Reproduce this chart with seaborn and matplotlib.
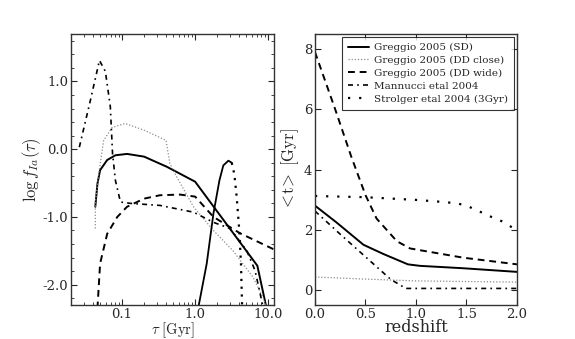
import numpy as np
import pandas as pd
import matplotlib
matplotlib.use("Agg")
import matplotlib.pyplot as plt
import seaborn as sns
from matplotlib.ticker import MultipleLocator, FixedLocator, FixedFormatter

# --- left panel: delay time distributions (tau in Gyr, log f_Ia) ---
tau_sd = [0.043, 0.046, 0.05, 0.0625, 0.081, 0.117, 0.2, 0.41, 1.0, 7.1, 9.5]
logf_sd = [-0.85, -0.51, -0.31, -0.16, -0.09, -0.07, -0.11, -0.26, -0.48, -1.72, -2.35]

tau_close = [0.043, 0.043, 0.048, 0.056, 0.073, 0.11, 0.2, 0.4, 0.45, 0.56, 0.95, 1.78, 3.3, 6.2, 8.6, 9.5]
logf_close = [-1.17, -0.8, -0.36, 0.13, 0.32, 0.38, 0.28, 0.13, -0.21, -0.41, -0.85, -1.2, -1.5, -1.89, -2.2, -2.35]

tau_wide = [0.046, 0.05, 0.0625, 0.086, 0.117, 0.2, 0.33, 0.62, 1.0, 1.78, 4.1, 12.0]
logf_wide = [-2.35, -1.69, -1.25, -1.0, -0.85, -0.73, -0.68, -0.67, -0.7, -1.0, -1.24, -1.48]

tau_mann = [0.026, 0.037, 0.049, 0.059, 0.069, 0.074, 0.081, 0.095, 0.13, 0.33, 0.95, 1.78, 3.0, 5.1, 6.6, 8.6]
logf_mann = [0.03, 0.73, 1.31, 1.15, 0.63, -0.06, -0.46, -0.78, -0.8, -0.83, -0.93, -1.08, -1.17, -1.5, -1.79, -2.35]

tau_strol = [1.1, 1.44, 1.78, 2.15, 2.43, 2.85, 3.17, 3.44, 3.7, 4.02, 4.24, 4.4]
logf_strol = [-2.35, -1.69, -0.95, -0.46, -0.24, -0.17, -0.2, -0.37, -0.7, -1.2, -1.69, -2.35]

# --- right panel: mean delay <t> vs redshift ---
z_sd = [0.0, 0.21, 0.48, 0.68, 0.92, 1.04, 1.47, 2.0]
t_sd = [2.8, 2.25, 1.5, 1.19, 0.85, 0.8, 0.72, 0.6]

z_close = [0.0, 0.5, 1.0, 2.0]
t_close = [0.43, 0.36, 0.3, 0.26]

z_wide = [0.0, 0.1, 0.2, 0.36, 0.5, 0.61, 0.81, 0.94, 1.04, 1.47, 2.0]
t_wide = [7.9, 6.95, 6.0, 4.42, 3.15, 2.37, 1.62, 1.38, 1.32, 1.07, 0.85]

z_mann = [0.0, 0.25, 0.5, 0.75, 0.9, 2.0]
t_mann = [2.62, 1.85, 1.1, 0.35, 0.05, 0.05]

z_strol = [0.0, 0.5, 1.0, 1.2, 1.4, 1.5, 1.6, 1.75, 1.85, 2.0]
t_strol = [3.12, 3.08, 2.99, 2.94, 2.88, 2.8, 2.65, 2.42, 2.28, 1.98]

labels = ["Greggio 2005 (SD)", "Greggio 2005 (DD close)", "Greggio 2005 (DD wide)",
          "Mannucci etal 2004", "Strolger etal 2004 (3Gyr)"]

# стили линий: цвет, толщина, штрих
styles = {
    labels[0]: ("black", 1.4, "-"),
    labels[1]: ("0.55", 0.9, (0, (1, 1.5))),
    labels[2]: ("black", 1.4, (0, (3.5, 2.5))),
    labels[3]: ("black", 1.2, (0, (3, 2.5, 1, 2.5))),
    labels[4]: ("black", 1.6, (0, (1, 4))),
}

left_data = [(tau_sd, logf_sd), (tau_close, logf_close), (tau_wide, logf_wide),
             (tau_mann, logf_mann)]
right_data = [(z_sd, t_sd), (z_close, t_close), (z_wide, t_wide),
              (z_mann, t_mann), (z_strol, t_strol)]

sns.set_style("ticks")
plt.rcParams.update({
    "font.family": "serif",
    "font.serif": ["DejaVu Serif"],
    "mathtext.fontset": "cm",
    "axes.unicode_minus": False,
    "xtick.direction": "in",
    "ytick.direction": "in",
    "xtick.top": True,
    "ytick.right": True,
    "axes.edgecolor": "0.2",
    "axes.linewidth": 1.0,
})

fig = plt.figure(figsize=(5.75, 3.39), dpi=100)
ax1 = fig.add_axes([0.1235, 0.1003, 0.353, 0.7994])
ax2 = fig.add_axes([0.5478, 0.1003, 0.3513, 0.7994])

for lab, (x, y) in zip(labels, left_data):
    c, lw, ls = styles[lab]
    df = pd.DataFrame({"x": x, "y": y})
    sns.lineplot(data=df, x="x", y="y", ax=ax1, color=c, linewidth=lw,
                 linestyle=ls, sort=False, estimator=None)

# Strolger слева: подъём сплошной, спад точками (как на оригинале)
df_s = pd.DataFrame({"x": tau_strol, "y": logf_strol})
sns.lineplot(data=df_s.iloc[:7], x="x", y="y", ax=ax1, color="black",
             linewidth=1.3, sort=False, estimator=None)
sns.lineplot(data=df_s.iloc[6:], x="x", y="y", ax=ax1, color="black",
             linewidth=1.6, linestyle=(0, (1, 2.5)), sort=False, estimator=None)

for lab, (x, y) in zip(labels, right_data):
    c, lw, ls = styles[lab]
    df = pd.DataFrame({"x": x, "y": y})
    sns.lineplot(data=df, x="x", y="y", ax=ax2, color=c, linewidth=lw,
                 linestyle=ls, sort=False, estimator=None, label=lab)

# левая панель
ax1.set_xscale("log")
ax1.set_xlim(0.02, 12)
ax1.set_ylim(-2.3, 1.7)
ax1.xaxis.set_major_locator(FixedLocator([0.1, 1.0, 10.0]))
ax1.xaxis.set_major_formatter(FixedFormatter(["0.1", "1.0", "10.0"]))
ax1.yaxis.set_major_locator(FixedLocator([-2, -1, 0, 1]))
ax1.yaxis.set_major_formatter(FixedFormatter(["-2.0", "-1.0", "0.0", "1.0"]))
ax1.yaxis.set_minor_locator(MultipleLocator(0.2))
ax1.set_xlabel(r"$\tau\ [\mathrm{Gyr}]$", fontsize=10.5, labelpad=-0.5)
ax1.set_ylabel(r"$\log f_{Ia}(\tau)$", fontsize=12, labelpad=0)

# правая панель
ax2.set_xlim(0, 2)
ax2.set_ylim(-0.5, 8.5)
ax2.set_xticks([0, 0.5, 1.0, 1.5, 2.0], ["0.0", "0.5", "1.0", "1.5", "2.0"])
ax2.set_yticks([0, 2, 4, 6, 8], ["0", "2", "4", "6", "8"])
ax2.set_xlabel("redshift", fontsize=11.5, labelpad=-1)
ax2.set_ylabel(r"$\mathrm{<\!t\!>\ [Gyr]}$", fontsize=12, labelpad=2)

for ax in (ax1, ax2):
    ax.tick_params(which="major", length=4, width=0.8, labelsize=9.5, pad=2)
    ax.tick_params(which="minor", length=2, width=0.6)

leg = ax2.legend(loc="upper right", fontsize=7.5, frameon=True, fancybox=False,
                 edgecolor="black", handlelength=2.0, handletextpad=0.5,
                 labelspacing=0.35, borderpad=0.55, borderaxespad=0.3)
leg.get_frame().set_linewidth(0.8)

fig.savefig("out.png", dpi=100)
